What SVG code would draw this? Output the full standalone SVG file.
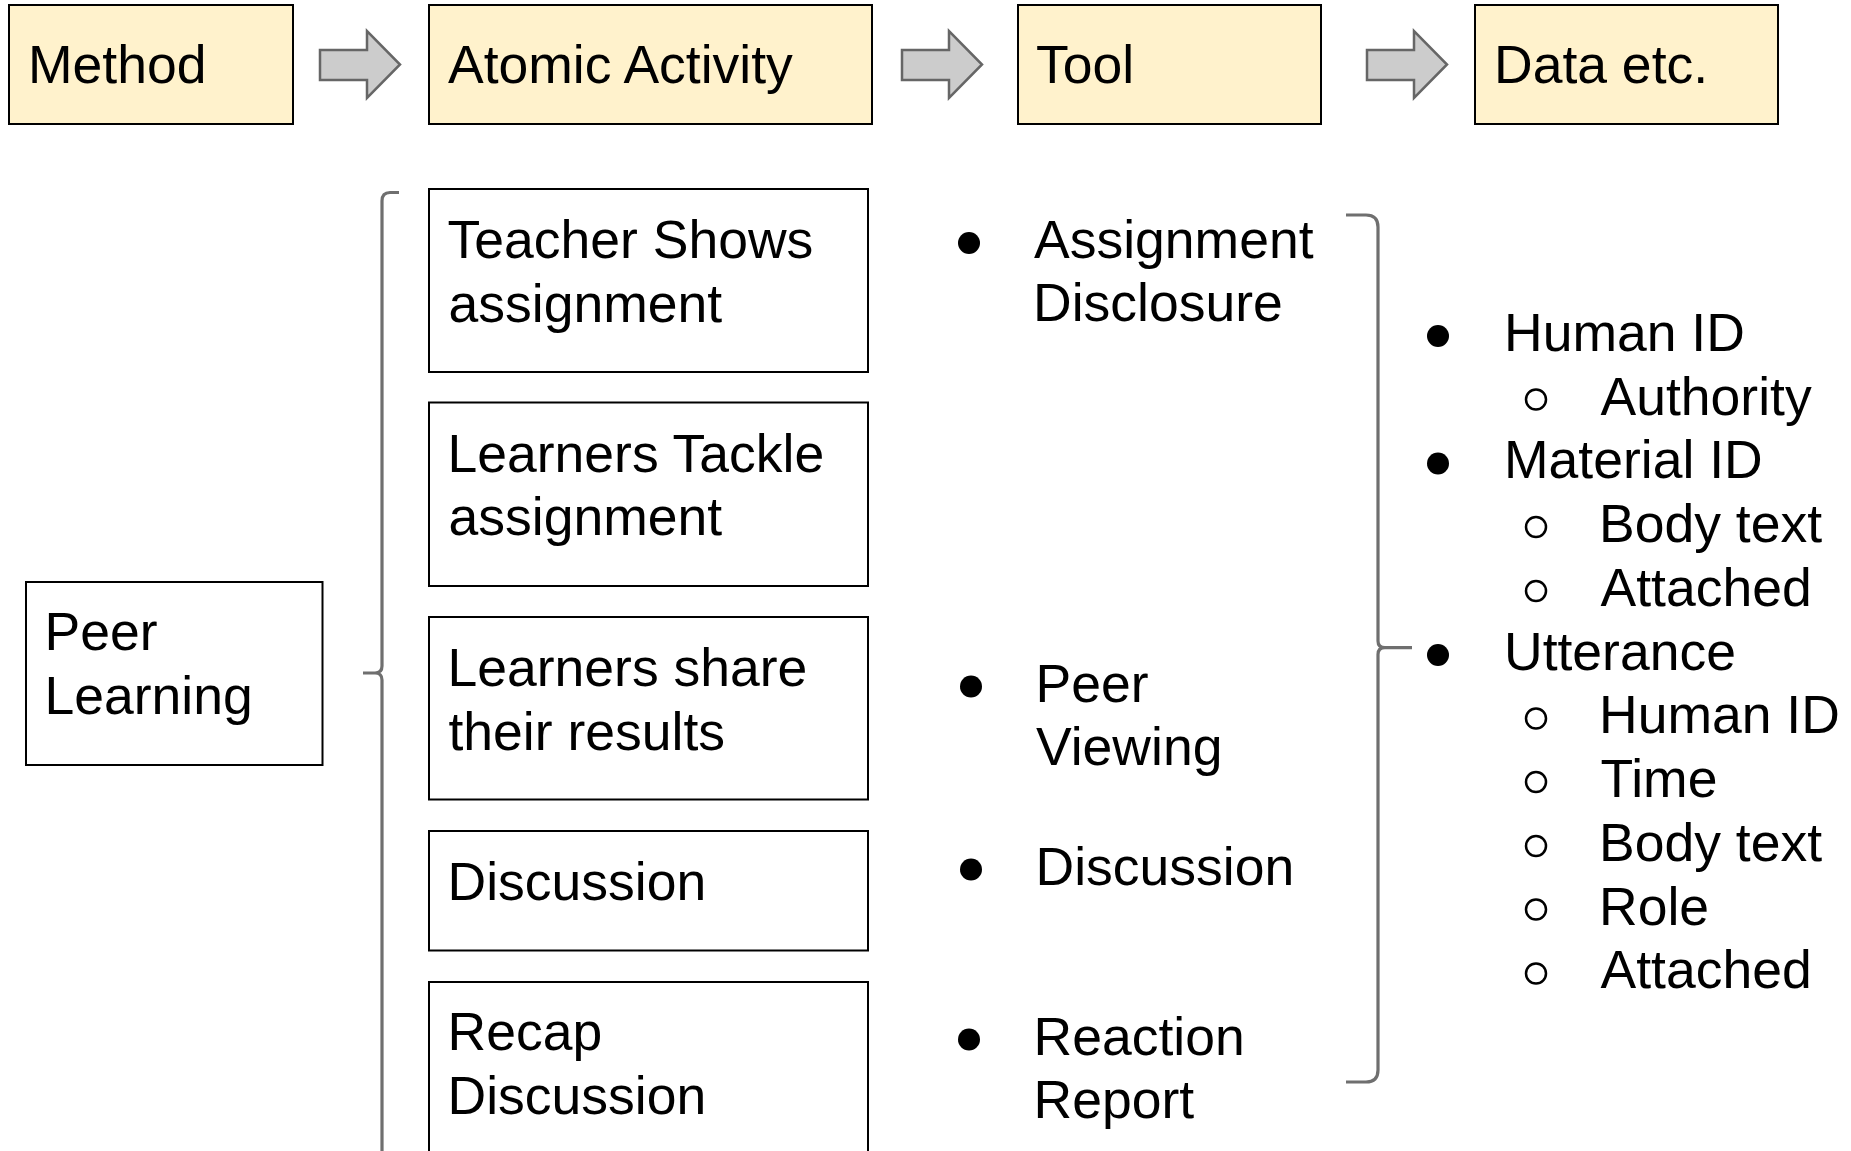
<svg xmlns="http://www.w3.org/2000/svg" width="1851" height="1151" viewBox="0 0 1851 1151">
<style>
text{font-family:"Liberation Sans",Arial,sans-serif;font-size:53.5px;fill:#000}
.hdr{fill:#fff2cc;stroke:#000;stroke-width:2}
.box{fill:#fff;stroke:#000;stroke-width:2}
.arrow{fill:#cccccc;stroke:#666;stroke-width:2.5;stroke-linejoin:miter}
.brace{fill:none;stroke:#6f6f6f;stroke-width:3.2;stroke-linecap:butt}
.dot{fill:#000}
.ring{fill:none;stroke:#000;stroke-width:2.5}
</style>
<rect width="1851" height="1151" fill="#fff"/>

<g id="connectors">
<polygon class="arrow" points="320,50 367,50 367,31 400,64.5 367,98 367,80 320,80"/>
<polygon class="arrow" points="902,50 949,50 949,31 982,64.5 949,98 949,80 902,80"/>
<polygon class="arrow" points="1367,50 1414,50 1414,31 1447,64.5 1414,98 1414,80 1367,80"/>
<path class="brace" d="M399 192.5 L390 192.5 Q382 192.5 382 201 L382 666 Q382 673 375 673 L363 673 M375 673 Q382 673 382 680 L382 1160"/>
<path class="brace" d="M1346 215 L1366 215 Q1378 215 1378 227 L1378 641 Q1378 647.7 1385 647.7 L1412 647.7 M1385 647.7 Q1378 647.7 1378 654.5 L1378 1070 Q1378 1082 1366 1082 L1346 1082"/>
</g>

<g id="method">
<rect class="hdr" x="9" y="5" width="284" height="119"/>
<text x="28" y="83">Method</text>
</g>
<g id="atomic-activity">
<rect class="hdr" x="429" y="5" width="443" height="119"/>
<text x="448" y="83">Atomic Activity</text>
</g>
<g id="tool">
<rect class="hdr" x="1018" y="5" width="303" height="119"/>
<text x="1036" y="83">Tool</text>
</g>
<g id="data">
<rect class="hdr" x="1475" y="5" width="303" height="119"/>
<text x="1494" y="83">Data etc.</text>
</g>

<g id="peer-learning">
<rect class="box" x="26" y="582" width="296.5" height="183"/>
<text x="44.5" y="650">Peer</text>
<text x="44.5" y="714">Learning</text>
</g>

<g id="teacher-shows">
<rect class="box" x="429" y="189" width="439" height="183"/>
<text x="447.5" y="258">Teacher Shows</text>
<text x="448.5" y="321.5">assignment</text>
</g>
<g id="learners-tackle">
<rect class="box" x="429" y="402.5" width="439" height="183.5"/>
<text x="447.5" y="471.5">Learners Tackle</text>
<text x="448.5" y="535">assignment</text>
</g>
<g id="learners-share">
<rect class="box" x="429" y="617" width="439" height="182.5"/>
<text x="447.5" y="686">Learners share</text>
<text x="448.5" y="749.5">their results</text>
</g>
<g id="discussion">
<rect class="box" x="429" y="831" width="439" height="119.5"/>
<text x="447.5" y="900">Discussion</text>
</g>
<g id="recap-discussion">
<rect class="box" x="429" y="982" width="439" height="190"/>
<text x="447.5" y="1050">Recap</text>
<text x="447.5" y="1113.5">Discussion</text>
</g>

<g id="tool-list">
<circle class="dot" cx="969" cy="243" r="11"/>
<text x="1034" y="257.6">Assignment</text>
<text x="1033" y="321.3">Disclosure</text>
<circle class="dot" cx="971" cy="686.5" r="11"/>
<text x="1035.5" y="701.5">Peer</text>
<text x="1036" y="765">Viewing</text>
<circle class="dot" cx="971" cy="869.5" r="11"/>
<text x="1035.5" y="884.5">Discussion</text>
<circle class="dot" cx="969" cy="1039.5" r="11"/>
<text x="1033.5" y="1054.5">Reaction</text>
<text x="1033.5" y="1118">Report</text>
</g>

<g id="data-list">
<circle class="dot" cx="1438" cy="336" r="11"/>
<text x="1504" y="351">Human ID</text>
<circle class="ring" cx="1536" cy="399.5" r="10"/>
<text x="1600.5" y="414.6">Authority</text>
<circle class="dot" cx="1438" cy="463.5" r="11"/>
<text x="1504" y="478.4">Material ID</text>
<circle class="ring" cx="1536" cy="527" r="10"/>
<text x="1599" y="542">Body text</text>
<circle class="ring" cx="1536" cy="591" r="10"/>
<text x="1600.5" y="606">Attached</text>
<circle class="dot" cx="1438" cy="655" r="11"/>
<text x="1504" y="669.6">Utterance</text>
<circle class="ring" cx="1536" cy="718.5" r="10"/>
<text x="1599" y="733.4">Human ID</text>
<circle class="ring" cx="1536" cy="782" r="10"/>
<text x="1600.5" y="797">Time</text>
<circle class="ring" cx="1536" cy="846" r="10"/>
<text x="1599" y="861">Body text</text>
<circle class="ring" cx="1536" cy="909.5" r="10"/>
<text x="1599" y="924.6">Role</text>
<circle class="ring" cx="1536" cy="973.5" r="10"/>
<text x="1600.5" y="988.4">Attached</text>
</g>
</svg>
